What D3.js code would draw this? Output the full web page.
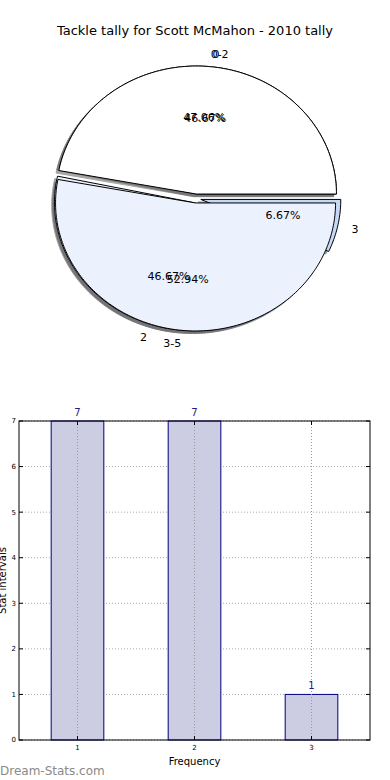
<!DOCTYPE html>
<html>
<head>
<meta charset="utf-8">
<title>Tackle tally</title>
<script src="https://d3js.org/d3.v7.min.js"></script>
<style>
  body { margin: 0; background: #fff; }
  text { font-family: "DejaVu Sans", sans-serif; }
</style>
</head>
<body>
<script>
// data
var pieLabelsA = ["0", "2", "3"],
    pieValuesA = [7, 7, 1],
    pieColorsA = ["#ffffff", "#ebf1fd", "#c5d8f6"];
var pieLabelsB = ["0-2", "3-5"],
    pieValuesB = [8, 9],
    pieColorsB = ["#ffffff", "#ebf1fd"];
var freqCats = [1, 2, 3],
    freqValues = [7, 7, 1];
var yTicks = [0, 1, 2, 3, 4, 5, 6, 7];

var W = 390, H = 780;
var svg = d3.select("body").append("svg")
    .attr("width", W).attr("height", H);

// title
svg.append("text")
    .attr("x", 195).attr("y", 35)
    .attr("text-anchor", "middle")
    .style("font-size", "13px")
    .text("Tackle tally for Scott McMahon - 2010 tally");

// pie in data units (radius 1), ellipse from unequal scales
var px = d3.scaleLinear().domain([-1, 1]).range([196 - 140, 196 + 140]);
var py = d3.scaleLinear().domain([-1, 1]).range([198.5 + 128, 198.5 - 128]);
var explode = 0.035;

var pie = d3.pie().sort(null).startAngle(0).endAngle(2 * Math.PI);
var line = d3.line().x(function(p) { return px(p[0]); }).y(function(p) { return py(p[1]); });

function wedgePts(a, cx, cy) {
  var pts = [[cx, cy]];
  var n = Math.max(4, Math.ceil((a.endAngle - a.startAngle) / 0.02));
  for (var i = 0; i <= n; i++) {
    var t = a.startAngle + (a.endAngle - a.startAngle) * i / n;
    pts.push([cx + Math.cos(t), cy + Math.sin(t)]);
  }
  pts.push([cx, cy]);
  return pts;
}

function build(values, labels, colors) {
  var total = d3.sum(values);
  return pie(values).map(function(a, i) {
    var tm = (a.startAngle + a.endAngle) / 2;
    return {
      a: a, label: labels[i], color: colors[i], tm: tm,
      ox: explode * Math.cos(tm), oy: explode * Math.sin(tm),
      pct: (100 * values[i] / total).toFixed(2) + "%"
    };
  });
}

var pieA = build(pieValuesA, pieLabelsA, pieColorsA);
var pieB = build(pieValuesB, pieLabelsB, pieColorsB);
var all = pieA.concat(pieB);

// shadows under everything
var gShadow = svg.append("g");
all.forEach(function(d) {
  var c = d3.rgb(d.color);
  var sc = d3.rgb(c.r * 0.3, c.g * 0.3, c.b * 0.3);
  gShadow.append("path")
      .attr("d", line(wedgePts(d.a, d.ox - 0.02, d.oy - 0.02)) + "Z")
      .attr("fill", sc).attr("stroke", sc)
      .attr("opacity", 0.5);
});

// wedges, then all texts on top
var gWedge = svg.append("g");
all.forEach(function(d) {
  gWedge.append("path")
      .attr("d", line(wedgePts(d.a, d.ox, d.oy)) + "Z")
      .attr("fill", d.color)
      .attr("stroke", "#000")
      .attr("stroke-width", 1);
});

var gText = svg.append("g");
all.forEach(function(d) {
  var xt = d.ox + 1.1 * Math.cos(d.tm), yt = d.oy + 1.1 * Math.sin(d.tm);
  gText.append("text")
      .attr("x", px(xt)).attr("y", py(yt))
      .attr("dy", "0.35em")
      .attr("text-anchor", xt > 0 ? "start" : "end")
      .style("font-size", "11px")
      .text(d.label);
  var xp = d.ox + 0.6 * Math.cos(d.tm), yp = d.oy + 0.6 * Math.sin(d.tm);
  gText.append("text")
      .attr("x", px(xp)).attr("y", py(yp))
      .attr("dy", "0.35em")
      .attr("text-anchor", "middle")
      .style("font-size", "11px")
      .text(d.pct);
});

// bar chart
var plotL = 19, plotR = 370, plotT = 421, plotB = 740;
var x = d3.scaleLinear().domain([0.5, 3.5]).range([plotL, plotR]);
var y = d3.scaleLinear().domain([0, 7]).range([plotB, plotT]);
var bw = 0.45;

var gb = svg.append("g");

// horizontal grid
gb.selectAll(".gy").data(yTicks).enter().append("line")
    .attr("x1", plotL).attr("x2", plotR)
    .attr("y1", function(d) { return y(d); }).attr("y2", function(d) { return y(d); })
    .attr("stroke", "#aaa").attr("stroke-width", 1)
    .attr("stroke-dasharray", "1,2");

// bars
gb.selectAll(".bar").data(freqValues).enter().append("rect")
    .attr("x", function(d, i) { return x(freqCats[i] - bw / 2); })
    .attr("width", x(bw) - x(0))
    .attr("y", function(d) { return y(d); })
    .attr("height", function(d) { return y(0) - y(d); })
    .attr("fill", "#ccccE3")
    .attr("stroke", "#000080").attr("stroke-width", 1);

// vertical grid
gb.selectAll(".gx").data(freqCats).enter().append("line")
    .attr("y1", plotT).attr("y2", plotB)
    .attr("x1", function(d) { return x(d); }).attr("x2", function(d) { return x(d); })
    .attr("stroke", "#999").attr("stroke-width", 1)
    .attr("stroke-dasharray", "1,2");

// value labels
gb.selectAll(".vl").data(freqValues).enter().append("text")
    .attr("x", function(d, i) { return x(freqCats[i]); })
    .attr("y", function(d) { return y(d) - 5; })
    .attr("text-anchor", "middle")
    .attr("fill", "#1a1a80")
    .style("font-size", "10px")
    .text(function(d) { return d; });

// frame
gb.append("rect")
    .attr("x", plotL).attr("y", plotT)
    .attr("width", plotR - plotL).attr("height", plotB - plotT)
    .attr("fill", "none").attr("stroke", "#000").attr("stroke-width", 1);

// ticks
yTicks.forEach(function(t) {
  gb.append("line").attr("x1", plotL).attr("x2", plotL + 4)
      .attr("y1", y(t)).attr("y2", y(t)).attr("stroke", "#000");
  gb.append("line").attr("x1", plotR).attr("x2", plotR - 4)
      .attr("y1", y(t)).attr("y2", y(t)).attr("stroke", "#000");
  gb.append("text").attr("x", plotL - 3).attr("y", y(t))
      .attr("dy", "0.35em").attr("text-anchor", "end")
      .style("font-size", "7px").text(t);
});
freqCats.forEach(function(t) {
  gb.append("line").attr("y1", plotB).attr("y2", plotB - 4)
      .attr("x1", x(t)).attr("x2", x(t)).attr("stroke", "#000");
  gb.append("line").attr("y1", plotT).attr("y2", plotT + 4)
      .attr("x1", x(t)).attr("x2", x(t)).attr("stroke", "#000");
  gb.append("text").attr("x", x(t)).attr("y", plotB + 10)
      .attr("text-anchor", "middle")
      .style("font-size", "7px").text(t);
});

// axis labels
svg.append("text")
    .attr("x", (plotL + plotR) / 2).attr("y", 765)
    .attr("text-anchor", "middle")
    .style("font-size", "10px")
    .text("Frequency");
svg.append("text")
    .attr("transform", "translate(6," + ((plotT + plotB) / 2) + ") rotate(-90)")
    .attr("text-anchor", "middle")
    .style("font-size", "10px")
    .text("Stat intervals");

// watermark
svg.append("text")
    .attr("x", 0).attr("y", 775)
    .attr("fill", "#8a8a8a")
    .style("font-size", "12px")
    .text("Dream-Stats.com");
</script>
</body>
</html>
